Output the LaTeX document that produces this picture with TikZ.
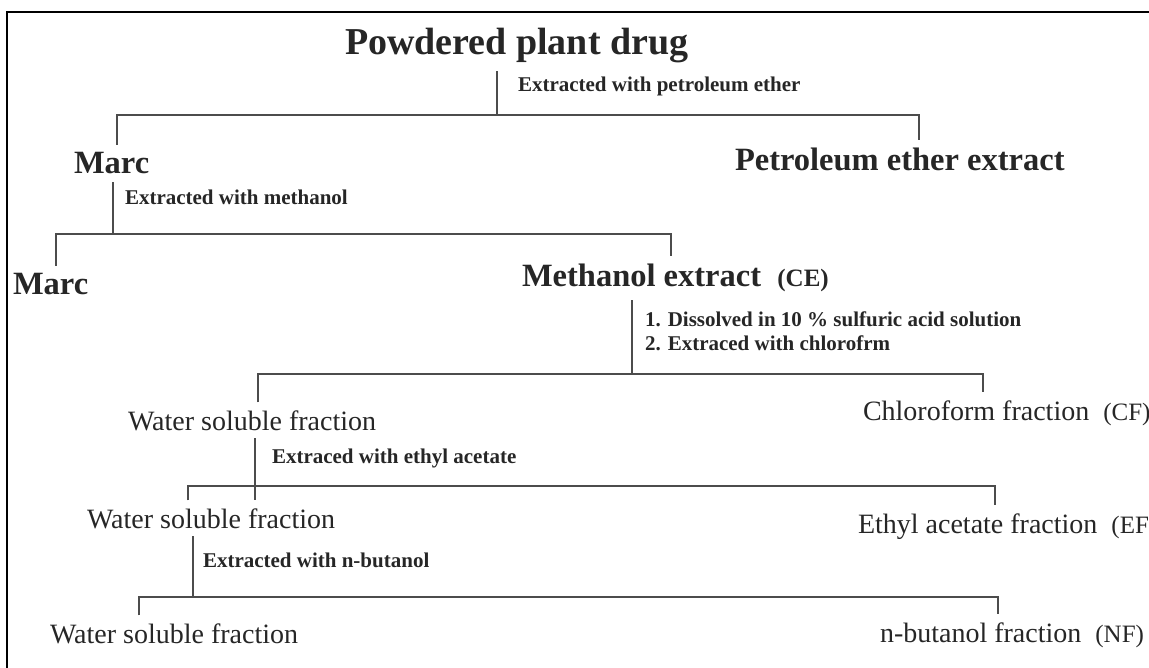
\documentclass[tikz,border=0pt]{standalone}
\usepackage{fontspec}
\setmainfont{Liberation Serif}
\usepackage{tikz}

\newcommand{\tag}[1]{{\fontsize{25}{28}\selectfont#1}}

\begin{document}
\begin{tikzpicture}[x = 1pt, y = -1pt,
	title/.style = {anchor = base west, inner sep = 0pt, outer xsep = 0pt, outer ysep = 8pt, text = black!85, font = \fontsize{38}{40}\selectfont\bfseries},
	head/.style = {title, font = \fontsize{32.5}{36}\selectfont\bfseries},
	frac/.style = {title, font = \fontsize{28}{32}\selectfont},
	how/.style = {title, outer ysep = 0pt, font = \fontsize{21}{24}\selectfont\bfseries},
	link/.style = {line width = 1.6pt, color = black!70},
	frame/.style = {line width = 2.4pt, color = black}]
		\useasboundingbox (0,0) rectangle (1149,668);
		\draw[frame] (7,700) -- (7,12) -- (1180,12);
		% nodes
		\node[title] (drug) at (345,55) {Powdered plant drug};
		\node[how] (s1) at (518,92) {Extracted with petroleum ether};
		\node[head] (marc1) at (74,174) {Marc};
		\node[head] (pet) at (735,171) {Petroleum ether extract};
		\node[how] (s2) at (125,205) {Extracted with methanol};
		\node[head] (marc2) at (13,295) {Marc};
		\node[head] (meth) at (522,287) {Methanol extract\ \ \tag{(CE)}};
		\node[how] (s3a) at (645,327) {1. Dissolved in 10 \% sulfuric acid solution};
		\node[how] (s3b) at (645,351) {2. Extraced with chlorofrm};
		\node[frac] (water1) at (128,430) {Water soluble fraction};
		\node[frac] (chlf) at (863,420) {Chloroform fraction\ \ \tag{(CF)}};
		\node[how] (s4) at (272,463) {Extraced with ethyl acetate};
		\node[frac] (water2) at (87,528) {Water soluble fraction};
		\node[frac] (ethf) at (858,533) {Ethyl acetate fraction\ \ \tag{(EF)}};
		\node[how] (s5) at (203,567) {Extracted with n-butanol};
		\node[frac] (water3) at (50,643) {Water soluble fraction};
		\node[frac] (butf) at (880,642) {n-butanol fraction\ \ \tag{(NF)}};
		% junctions
		\coordinate (j1) at (497,115); \coordinate (l1) at (117,115); \coordinate (r1) at (919,115);
		\coordinate (j2) at (113,234); \coordinate (l2) at (56,234); \coordinate (r2) at (671,234);
		\coordinate (j3) at (632,374); \coordinate (l3) at (258,374); \coordinate (r3) at (983,374);
		\coordinate (j4) at (255,486); \coordinate (l4) at (188,486); \coordinate (r4) at (995,486);
		\coordinate (j5) at (193,597); \coordinate (l5) at (139,597); \coordinate (r5) at (998,597);
		% connectors
		\draw[link] (drug.south -| j1) -- (j1);
		\draw[link] (marc1.north -| l1) |- (r1) -- (r1 |- pet.north);
		\draw[link] (marc1.south -| j2) -- (j2);
		\draw[link] (marc2.north -| l2) |- (r2) -- (r2 |- meth.north);
		\draw[link] (meth.south -| j3) -- (j3);
		\draw[link] (water1.north -| l3) |- (r3) -- (r3 |- chlf.north);
		\draw[link] (water1.south -| j4) -- (j4 |- water2.north);
		\draw[link] (water2.north -| l4) |- (r4) -- (r4 |- ethf.north);
		\draw[link] (water2.south -| j5) -- (j5);
		\draw[link] (water3.north -| l5) |- (r5) -- (r5 |- butf.north);
\end{tikzpicture}
\end{document}
